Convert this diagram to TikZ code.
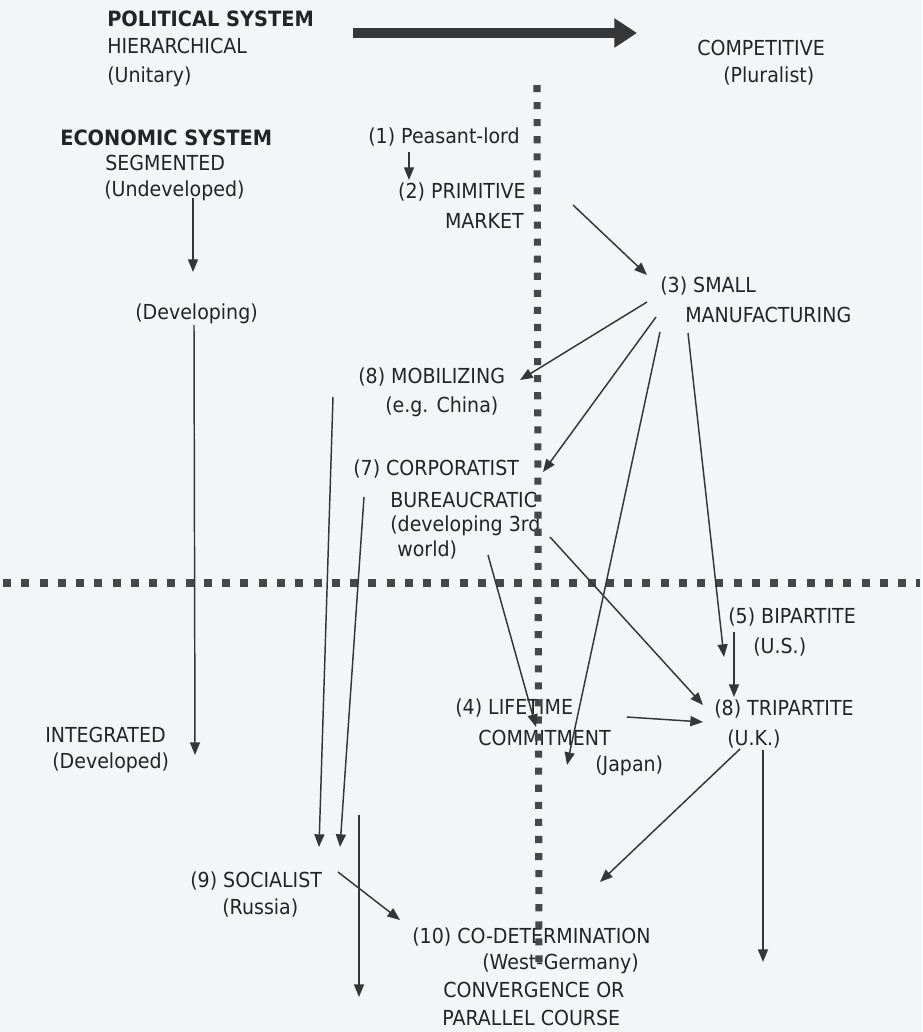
\documentclass[tikz,border=0pt]{standalone}
\usepackage{fontspec}
\setmainfont{DejaVu Sans}[FakeStretch=0.92]
\usetikzlibrary{arrows.meta}
\definecolor{bg}{HTML}{F3F5F6}
\definecolor{ink}{HTML}{242424}
\definecolor{arrowink}{HTML}{363636}
\definecolor{dotink}{HTML}{474747}
\begin{document}
\begin{tikzpicture}[x=0.75pt,y=-0.75pt,
  lbl/.style={anchor=base west,inner sep=0pt,text=ink,font=\fontsize{15.5}{18}\selectfont},
  lblr/.style={lbl,anchor=base east},
  head/.style={lbl,font=\bfseries\fontsize{15.8}{19}\selectfont},
  arr/.style={draw=arrowink,line width=1.1pt,-{Triangle[length=9.5pt,width=7.5pt]}},
  bigarr/.style={draw=arrowink,line width=7.5pt,-{Triangle[length=17pt,width=21pt]}},
  vdots/.style={draw=dotink,line width=5.3pt,dash pattern=on 5.3pt off 7.5pt},
  hdots/.style={draw=dotink,line width=6pt,dash pattern=on 6pt off 7.7pt}]
\fill[bg] (0,0) rectangle (922,1032);
\useasboundingbox (0,0) rectangle (922,1032);

% headings
\node[head] (polsys) at (107,26) {POLITICAL SYSTEM};
\node[lbl] (hier) at (107,53) {HIERARCHICAL};
\node[lbl] (unit) at (107,82) {(Unitary)};
\node[lbl] (comp) at (697,55) {COMPETITIVE};
\node[lbl] (plur) at (723,82) {(Pluralist)};
\node[head] (ecosys) at (60,145) {ECONOMIC SYSTEM};
\node[lbl] (seg) at (105,170) {SEGMENTED};
\node[lbl] (undev) at (104,196) {(Undeveloped)};
\node[lbl] (devg) at (135,319) {(Developing)};
\node[lbl] (integ) at (45,742) {INTEGRATED};
\node[lbl] (devd) at (52,768) {(Developed)};

% stages
\node[lbl] (peas) at (368,143) {(1) Peasant-lord};
\node[lblr] (primA) at (526,198) {(2) PRIMITIVE};
\node[lblr] (primB) at (524,228) {MARKET};
\node[lbl] (smallA) at (660,292) {(3) SMALL};
\node[lbl] (smallB) at (685,322) {MANUFACTURING};
\node[lbl] (mobA) at (358,383) {(8) MOBILIZING};
\node[lbl] (mobB) at (385,412) {(e.g. China)};
\node[lbl] (corpA) at (353,475) {(7) CORPORATIST};
\node[lbl] (corpB) at (390,507) {BUREAUCRATIC};
\node[lbl] (corpC) at (390,531) {(developing 3rd};
\node[lbl] (corpD) at (397,556) {world)};
\node[lbl] (lifeA) at (455,714) {(4) LIFETIME};
\node[lbl] (lifeB) at (478,745) {COMMITMENT};
\node[lbl] (lifeC) at (595,771) {(Japan)};
\node[lbl] (biA) at (728,623) {(5) BIPARTITE};
\node[lbl] (biB) at (753,653) {(U.S.)};
\node[lbl] (triA) at (714,715) {(8) TRIPARTITE};
\node[lbl] (triB) at (727,745) {(U.K.)};
\node[lbl] (socA) at (190,887) {(9) SOCIALIST};
\node[lbl] (socB) at (222,914) {(Russia)};
\node[lbl] (codA) at (412,943) {(10) CO-DETERMINATION};
\node[lbl] (codB) at (482,969) {(West-Germany)};
\node[lbl] (convA) at (443,997) {CONVERGENCE OR};
\node[lbl] (convB) at (442,1025) {PARALLEL COURSE};

% dotted axes
\coordinate (vtop) at (537,85);
\coordinate (vbot) at (539,962);
\coordinate (hleft) at (3,583);
\coordinate (hright) at (920,583);
\draw[vdots] (vtop) -- (vbot);
\draw[hdots] (hleft) -- (hright);

% political arrow
\coordinate (polL) at (353,33);
\coordinate (polR) at (637,33);
\draw[bigarr] (polL) -- (polR);

% connector end points
\coordinate (segS) at (193,198);  \coordinate (devgN) at (193,272);
\coordinate (devgS) at (194,325); \coordinate (integE) at (195,755);
\coordinate (peasS) at (409,152); \coordinate (primN) at (409,180);
\coordinate (primE) at (573,205); \coordinate (smallW) at (647,275);
\coordinate (smallO1) at (647,302); \coordinate (mobE) at (520,380);
\coordinate (smallO2) at (656,317); \coordinate (corpE) at (543,472);
\coordinate (smallO3) at (660,332); \coordinate (japanW) at (567,765);
\coordinate (smallO4) at (688,333); \coordinate (biW) at (724,657);
\coordinate (biS) at (734,632); \coordinate (triN) at (734,697);
\coordinate (corpO1) at (550,537); \coordinate (triW) at (703,705);
\coordinate (corpO2) at (488,555); \coordinate (lifeN) at (536,727);
\coordinate (lifeE) at (627,717); \coordinate (triW2) at (703,722);
\coordinate (triO1) at (740,749); \coordinate (convNE) at (600,882);
\coordinate (triO2) at (763,750); \coordinate (triEnd) at (763,962);
\coordinate (mobS) at (333,397); \coordinate (socN1) at (319,847);
\coordinate (corpS) at (364,497); \coordinate (socN2) at (340,847);
\coordinate (parTop) at (359,815); \coordinate (parEnd) at (359,997);
\coordinate (socE) at (338,872); \coordinate (codW) at (400,920);

\draw[arr] (segS) -- (devgN);
\draw[arr] (devgS) -- (integE);
\draw[arr] (peasS) -- (primN);
\draw[arr] (primE) -- (smallW);
\draw[arr] (smallO1) -- (mobE);
\draw[arr] (smallO2) -- (corpE);
\draw[arr] (smallO3) -- (japanW);
\draw[arr] (smallO4) -- (biW);
\draw[arr] (biS) -- (triN);
\draw[arr] (corpO1) -- (triW);
\draw[arr] (corpO2) -- (lifeN);
\draw[arr] (lifeE) -- (triW2);
\draw[arr] (triO1) -- (convNE);
\draw[arr] (triO2) -- (triEnd);
\draw[arr] (mobS) -- (socN1);
\draw[arr] (corpS) -- (socN2);
\draw[arr] (parTop) -- (parEnd);
\draw[arr] (socE) -- (codW);
\end{tikzpicture}
\end{document}
